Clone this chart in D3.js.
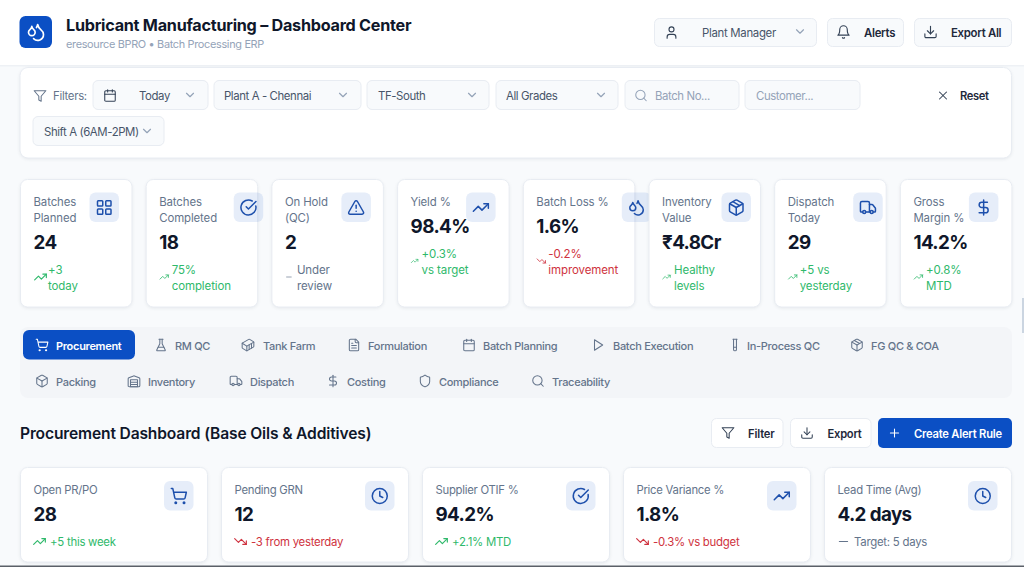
<!DOCTYPE html>
<html>
<head>
<meta charset="utf-8">
<script src="https://cdn.jsdelivr.net/npm/d3@7"></script>
<style>
  html, body { margin: 0; padding: 0; background: #f8fafc; overflow: hidden; }
  svg { display: block; font-family: Inter, "Noto Sans", sans-serif; }
  .soft { filter: drop-shadow(0 1px 1.5px rgba(15, 23, 42, .07)); }
</style>
</head>
<body>
<div id="chart"></div>
<script>
// Data
var titleText = "Lubricant Manufacturing – Dashboard Center";
var subtitleText = "eresource BPRO • Batch Processing ERP";
var sectionText = "Procurement Dashboard (Base Oils & Additives)";

var kpiLabels = [["Batches", "Planned"], ["Batches", "Completed"], ["On Hold", "(QC)"], ["Yield %"],
  ["Batch Loss %"], ["Inventory", "Value"], ["Dispatch", "Today"], ["Gross", "Margin %"]];
var kpiValues = ["24", "18", "2", "98.4%", "1.6%", "₹4.8Cr", "29", "14.2%"];
var kpiTrends = [["+3", "today"], ["75%", "completion"], ["Under", "review"], ["+0.3%", "vs target"],
  ["-0.2%", "improvement"], ["Healthy", "levels"], ["+5 vs", "yesterday"], ["+0.8%", "MTD"]];
var kpiDirections = ["up", "up", "flat", "up", "down", "up", "up", "up"];
var kpiIcons = ["grid", "check", "alert", "trendUp", "droplets", "package", "truck", "dollar"];

var procLabels = ["Open PR/PO", "Pending GRN", "Supplier OTIF %", "Price Variance %", "Lead Time (Avg)"];
var procValues = ["28", "12", "94.2%", "1.8%", "4.2 days"];
var procTrends = ["+5 this week", "-3 from yesterday", "+2.1% MTD", "-0.3% vs budget", "Target: 5 days"];
var procDirections = ["up", "down", "up", "down", "flat"];
var procIcons = ["cart", "clock", "check", "trendUp", "clock"];

var tabLabels = ["Procurement", "RM QC", "Tank Farm", "Formulation", "Batch Planning", "Batch Execution",
  "In-Process QC", "FG QC & COA", "Packing", "Inventory", "Dispatch", "Costing", "Compliance", "Traceability"];
var tabIcons = ["cart", "flask", "container", "file", "calendar", "play", "tube", "package",
  "box", "warehouse", "truck", "dollar", "shield", "search"];

var filterLabels = ["Today", "Plant A - Chennai", "TF-South", "All Grades", "Batch No...", "Customer...", "Shift A (6AM-2PM)"];

// Layout
var width = 1024, height = 567;
var ink = "#0f172a", muted = "#64748b", faint = "#94a3b8", blue = "#0b4fc4", iconBlue = "#1e50ac";
var green = "#2fb96b", red = "#cf3340", hairline = "#e8ecf2";

var kpiIconLeft = [69.5, 88, 70, 69, 99, 73, 79, 69];
var kpiTrendLeft = [28, 26, 25.5, 24.5, 25.5, 25.5, 25.5, 26];
var kpiTrendIcon = [14, 10, 8, 8, 10, 9, 10, 10];

var tabX = [36, 155, 242, 348, 463, 592, 729, 851, 36, 128, 230, 327, 419, 532];
var tabTextX = [56, 175, 263, 368, 483, 613, 747, 871, 56, 148, 250, 347, 439, 552];

// filter chips: left/right edge, text x, chevron x
var chipX = [[93, 208], [214, 361], [367, 489], [496, 618], [625, 739], [745, 860], [33, 164]];
var chipTextX = [139, 224, 378, 506, 655, 756, 44];
var chipChevron = [190, 343, 472, 601, null, null, 147];

var kpiX = d3.scaleBand().domain(d3.range(8)).range([20, 1011.9]).paddingInner(0.109);
var procX = d3.scaleBand().domain(d3.range(5)).range([20, 1011.5]).paddingInner(0.067);

// Icons
function circ(cx, cy, r) {
  return "M" + (cx - r) + " " + cy + "a" + r + " " + r + " 0 1 0 " + (2 * r) + " 0a" + r + " " + r + " 0 1 0 " + (-2 * r) + " 0";
}
function rrect(x, y, w, h, r) {
  return "M" + (x + r) + " " + y + "h" + (w - 2 * r) + "a" + r + " " + r + " 0 0 1 " + r + " " + r + "v" + (h - 2 * r) +
    "a" + r + " " + r + " 0 0 1 " + (-r) + " " + r + "h" + (2 * r - w) + "a" + r + " " + r + " 0 0 1 " + (-r) + " " + (-r) +
    "v" + (2 * r - h) + "a" + r + " " + r + " 0 0 1 " + r + " " + (-r) + "z";
}
var iconPaths = {
  droplets: ["M7 16.3c2.2 0 4-1.83 4-4.05 0-1.16-.57-2.26-1.71-3.19S7.29 6.75 7 5.3c-.29 1.45-1.14 2.84-2.29 3.76S3 11.1 3 12.25c0 2.22 1.8 4.05 4 4.05z", "M12.56 6.6A10.97 10.97 0 0 0 14 3.02c.5 2.5 2 4.9 4 6.5s3 3.5 3 5.5a6.98 6.98 0 0 1-11.91 4.97"],
  user: ["M19 21v-2a4 4 0 0 0-4-4H9a4 4 0 0 0-4 4v2", circ(12, 7, 4)],
  chevron: ["m6 9 6 6 6-6"],
  bell: ["M6 8a6 6 0 0 1 12 0c0 7 3 9 3 9H3s3-2 3-9", "M10.3 21a1.94 1.94 0 0 0 3.4 0"],
  download: ["M21 15v4a2 2 0 0 1-2 2H5a2 2 0 0 1-2-2v-4", "m7 10 5 5 5-5", "M12 15V3"],
  filter: ["M22 3H2l8 9.46V19l4 2v-8.54z"],
  calendar: ["M8 2v4", "M16 2v4", rrect(3, 4, 18, 18, 2), "M3 10h18"],
  search: [circ(11, 11, 8), "m21 21-4.3-4.3"],
  x: ["M18 6 6 18", "m6 6 12 12"],
  plus: ["M5 12h14", "M12 5v14"],
  minus: ["M5 12h14"],
  grid: [rrect(3, 3, 7, 7, 1), rrect(14, 3, 7, 7, 1), rrect(14, 14, 7, 7, 1), rrect(3, 14, 7, 7, 1)],
  check: ["M21.801 10A10 10 0 1 1 17 3.335", "m9 11 3 3L22 4"],
  alert: ["m21.73 18-8-14a2 2 0 0 0-3.48 0l-8 14A2 2 0 0 0 4 21h16a2 2 0 0 0 1.73-3", "M12 9v4", "M12 17h.01"],
  trendUp: ["M22 7 13.5 15.5 8.5 10.5 2 17", "M16 7h6v6"],
  trendDown: ["M22 17 13.5 8.5 8.5 13.5 2 7", "M16 17h6v-6"],
  package: ["M11 21.73a2 2 0 0 0 2 0l7-4A2 2 0 0 0 21 16V8a2 2 0 0 0-1-1.73l-7-4a2 2 0 0 0-2 0l-7 4A2 2 0 0 0 3 8v8a2 2 0 0 0 1 1.73z", "M12 22V12", "m3.3 7 8.7 5 8.7-5", "m7.5 4.27 9 5.15"],
  truck: ["M14 18V6a2 2 0 0 0-2-2H4a2 2 0 0 0-2 2v11a1 1 0 0 0 1 1h2", "M15 18H9", "M19 18h2a1 1 0 0 0 1-1v-3.65a1 1 0 0 0-.22-.624l-3.48-4.35A1 1 0 0 0 17.52 8H14", circ(17, 18, 2), circ(7, 18, 2)],
  dollar: ["M12 2v20", "M17 5H9.5a3.5 3.5 0 0 0 0 7h5a3.5 3.5 0 0 1 0 7H6"],
  cart: [circ(8, 21, 1), circ(19, 21, 1), "M2.05 2.05h2l2.66 12.42a2 2 0 0 0 2 1.58h9.78a2 2 0 0 0 1.95-1.57l1.65-7.43H5.12"],
  flask: ["M10 2v7.527a2 2 0 0 1-.211.896L4.72 20.55a1 1 0 0 0 .9 1.45h12.76a1 1 0 0 0 .9-1.45l-5.069-10.127A2 2 0 0 1 14 9.527V2", "M8.5 2h7", "M7 16h10"],
  container: ["M22 7.7c0-.6-.4-1.2-.8-1.5l-6.3-3.9a1.72 1.72 0 0 0-1.7 0l-10.3 6c-.5.2-.9.8-.9 1.4v6.6c0 .5.4 1.2.8 1.5l6.3 3.9a1.72 1.72 0 0 0 1.7 0l10.3-6c.5-.3.9-1 .9-1.5Z", "M10 21.9V14L2.1 9.1", "m10 14 11.9-6.9", "M14 19.8v-8.1", "M18 17.5V9.4"],
  file: ["M15 2H6a2 2 0 0 0-2 2v16a2 2 0 0 0 2 2h12a2 2 0 0 0 2-2V7Z", "M14 2v4a2 2 0 0 0 2 2h4", "M10 9H8", "M16 13H8", "M16 17H8"],
  play: ["m6 3 14 9-14 9z"],
  tube: ["M14.5 2v17.5c0 1.4-1.1 2.5-2.5 2.5c-1.4 0-2.5-1.1-2.5-2.5V2", "M8.5 2h7", "M14.5 16h-5"],
  box: ["M21 8a2 2 0 0 0-1-1.73l-7-4a2 2 0 0 0-2 0l-7 4A2 2 0 0 0 3 8v8a2 2 0 0 0 1 1.73l7 4a2 2 0 0 0 2 0l7-4A2 2 0 0 0 21 16Z", "m3.3 7 8.7 5 8.7-5", "M12 22V12"],
  warehouse: ["M22 8.35V20a2 2 0 0 1-2 2H4a2 2 0 0 1-2-2V8.35A2 2 0 0 1 3.26 6.5l8-3.2a2 2 0 0 1 1.48 0l8 3.2A2 2 0 0 1 22 8.35Z", "M6 18h12", "M6 14h12", rrect(6, 10, 12, 12, 0)],
  shield: ["M20 13c0 5-3.5 7.5-7.66 8.95a1 1 0 0 1-.67-.01C7.5 20.5 4 18 4 13V6a1 1 0 0 1 1-1c2 0 4.5-1.2 6.24-2.72a1.17 1.17 0 0 1 1.52 0C14.51 3.81 17 5 19 5a1 1 0 0 1 1 1z"],
  clock: [circ(12, 12, 10), "M12 6v6l4 2"]
};

var svg = d3.select("#chart").append("svg").attr("width", width).attr("height", height);

// Draw helpers
function icon(parent, name, cx, cy, size, color, sw) {
  var g = parent.append("g")
    .attr("transform", `translate(${cx - size / 2}, ${cy - size / 2}) scale(${size / 24})`)
    .attr("fill", "none").attr("stroke", color).attr("stroke-width", sw || 2)
    .attr("stroke-linecap", "round").attr("stroke-linejoin", "round");
  g.selectAll("path").data(iconPaths[name]).enter().append("path").attr("d", d => d);
}
function label(parent, str, x, y, size, color, weight, spacing) {
  return parent.append("text").attr("x", x).attr("y", y)
    .attr("font-size", size).attr("fill", color).attr("font-weight", weight || 400)
    .attr("letter-spacing", spacing || 0).text(str);
}
function box(parent, x0, y0, x1, y1, r, fill, stroke, soft) {
  return parent.append("rect").attr("x", x0).attr("y", y0)
    .attr("width", x1 - x0).attr("height", y1 - y0).attr("rx", r)
    .attr("fill", fill).attr("stroke", stroke || "none")
    .attr("class", soft ? "soft" : null);
}
function trendIcon(dir) { return dir === "up" ? "trendUp" : dir === "down" ? "trendDown" : "minus"; }
function trendColor(dir) { return dir === "up" ? green : dir === "down" ? red : muted; }

// Header
box(svg, 0, 0, width, 65, 0, "#fff");
svg.append("rect").attr("x", 0).attr("y", 65).attr("width", width).attr("height", 1.5).attr("fill", "#eef1f5");
box(svg, 19.5, 16, 52, 48, 6, blue);
icon(svg, "droplets", 36, 32, 20, "#fff");
label(svg, titleText, 66, 31, 16.2, ink, 700, -0.26);
label(svg, subtitleText, 66, 48, 10.9, faint, 400, -0.32);

box(svg, 654.5, 18.5, 816.5, 46.5, 5, "#f8fafc", hairline);
icon(svg, "user", 671.5, 32.5, 15, "#334155", 1.8);
label(svg, "Plant Manager", 702, 37, 11.4, "#475569", 400, -0.3);
icon(svg, "chevron", 800, 31.5, 14, faint);
box(svg, 827.5, 18.5, 903.5, 46.5, 5, "#f8fafc", hairline);
icon(svg, "bell", 843.5, 32, 15, "#334155", 1.8);
label(svg, "Alerts", 864, 37, 11.4, "#1e293b", 600, -0.3);
box(svg, 914.5, 18.5, 1011.5, 46.5, 5, "#f8fafc", hairline);
icon(svg, "download", 930.5, 32, 15, "#334155", 1.8);
label(svg, "Export All", 951, 37, 11.4, "#1e293b", 600, -0.3);

// Filter card
box(svg, 20, 67.5, 1011.5, 158, 8, "#fff", hairline, true);
icon(svg, "filter", 40, 96, 14, muted, 1.8);
label(svg, "Filters:", 53, 100, 11.4, muted, 400, -0.3);
filterLabels.forEach(function(d, i) {
  var y0 = i === 6 ? 116.5 : 80.5;
  box(svg, chipX[i][0], y0, chipX[i][1], y0 + 29, 5, "#f8fafc", hairline);
  var isInput = i === 4 || i === 5;
  label(svg, d, chipTextX[i], y0 + 19.5, 11.4, isInput ? faint : "#475569", 400, -0.4);
  if (chipChevron[i]) icon(svg, "chevron", chipChevron[i], y0 + 14.5, 14, faint);
});
icon(svg, "calendar", 110, 95.5, 14, "#334155", 1.8);
icon(svg, "search", 641, 95.5, 14, faint, 1.8);
icon(svg, "x", 943, 95.5, 14, "#334155", 1.8);
label(svg, "Reset", 960, 100, 11.2, "#1e293b", 600, -0.4);

// KPI row
kpiLabels.forEach(function(lines, i) {
  var x = kpiX(i), w = kpiX.bandwidth();
  var g = svg.append("g");
  box(g, x + .5, 179.5, x + w, 307, 7, "#fff", hairline, true);
  lines.forEach(function(t, k) { label(g, t, x + 13.5, 206 + k * 16, 11.4, muted, 400, -0.1); });
  var shift = lines.length === 1 ? -16 : 0;
  label(g, kpiValues[i], x + 13.5, 249 + shift, 18.8, ink, 700, -0.6);
  var dir = kpiDirections[i];
  icon(g, trendIcon(dir), x + 13.5 + kpiTrendIcon[i] / 2, 277 + shift, kpiTrendIcon[i], trendColor(dir));
  kpiTrends[i].forEach(function(t, k) {
    label(g, t, x + kpiTrendLeft[i], 274 + shift + k * 16.3, 11.5, trendColor(dir), 400, -0.1);
  });
  g.append("rect").attr("x", x + kpiIconLeft[i]).attr("y", 192.5).attr("width", 29.5).attr("height", 29.5)
    .attr("rx", 6).attr("fill", blue).attr("fill-opacity", .1);
  icon(g, kpiIcons[i], x + kpiIconLeft[i] + 14.75, 207.5, 18, iconBlue, 2);
});

// Tabs
box(svg, 20, 327, 1012, 398, 8, "#f3f5f8");
box(svg, 23, 330, 135, 359.5, 6, blue);
tabLabels.forEach(function(d, i) {
  var y = i < 8 ? 350 : 386, on = i === 0;
  icon(svg, tabIcons[i], tabX[i] + 6, y - 5, 14, on ? "#fff" : muted, 1.8);
  label(svg, d, tabTextX[i], y, 11, on ? "#fff" : muted, on ? 600 : 500, -0.3);
});

// Section header
label(svg, sectionText, 20, 439, 15.6, ink, 600, -0.15);
box(svg, 711.5, 418.5, 783, 447.5, 5, "#fff", hairline);
icon(svg, "filter", 728, 433, 14, "#334155", 1.8);
label(svg, "Filter", 748, 437.5, 11.2, "#1e293b", 600, -0.15);
box(svg, 790.5, 418.5, 871, 447.5, 5, "#fff", hairline);
icon(svg, "download", 807, 433, 14, "#334155", 1.8);
label(svg, "Export", 827.5, 437.5, 11.2, "#1e293b", 600, -0.25);
box(svg, 878, 418, 1012, 448, 5, blue);
icon(svg, "plus", 894.5, 433, 14, "#fff", 1.8);
label(svg, "Create Alert Rule", 914, 437.5, 11.2, "#fff", 600, -0.22);

// Procurement cards
procLabels.forEach(function(d, i) {
  var x = procX(i), w = procX.bandwidth(), dir = procDirections[i];
  box(svg, x + .5, 467.5, x + w, 562, 7, "#fff", hairline, true);
  label(svg, d, x + 13.5, 494, 11.3, muted, 400, -0.25);
  label(svg, procValues[i], x + 13.5, 521, 18.8, ink, 700, -0.6);
  icon(svg, trendIcon(dir), x + 19.5, 541.5, 14, trendColor(dir));
  label(svg, procTrends[i], x + 30, 546, 11.4, trendColor(dir), 400, -0.25);
  svg.append("rect").attr("x", x + w - 43.5).attr("y", 481).attr("width", 29.5).attr("height", 29.5)
    .attr("rx", 6).attr("fill", blue).attr("fill-opacity", .1);
  icon(svg, procIcons[i], x + w - 28.75, 496, 18, iconBlue, 2);
});

// Scrollbar and window edge
svg.append("rect").attr("x", 1022).attr("y", 298).attr("width", 2).attr("height", 35).attr("fill", "#cbd5e1");
svg.append("rect").attr("x", 0).attr("y", 565.5).attr("width", width).attr("height", 1.5).attr("fill", "#5b6068");
</script>
</body>
</html>
